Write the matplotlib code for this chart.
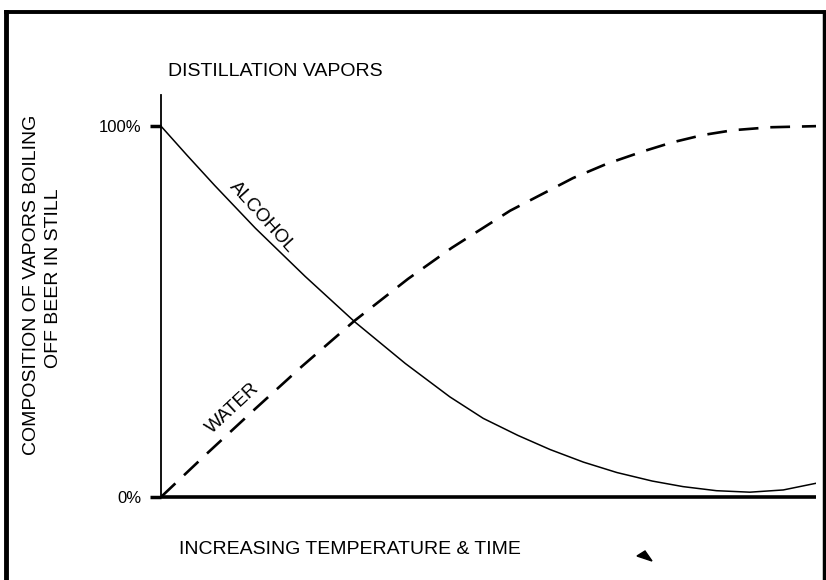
import matplotlib
matplotlib.use("Agg")
import matplotlib.pyplot as plt
from matplotlib.lines import Line2D
from matplotlib.patches import Polygon

plt.rcParams['font.family'] = ['Liberation Sans', 'DejaVu Sans']

# Data (x = % of temperature/time range, y = % composition)
alcohol_x = [0, 4.0, 8.2, 14.4, 22.0, 29.6, 37.3, 44.1, 49.2, 54.5, 59.4, 64.5, 69.6, 75.0, 79.7, 84.8, 89.9, 95.0, 100]
alcohol_y = [100, 92.1, 84.0, 72.5, 59.5, 47.2, 36.0, 27.0, 21.2, 16.6, 12.8, 9.4, 6.6, 4.3, 2.8, 1.7, 1.3, 1.9, 3.7]
water_x = [0, 6.7, 14.4, 21.5, 29.6, 37.7, 44.4, 53.3, 62.9, 68.0, 73.6, 78.0, 82.7, 87.3, 93.0, 100]
water_y = [0, 11.2, 23.8, 35.2, 47.6, 58.8, 67.2, 77.2, 86.0, 89.8, 93.2, 95.6, 97.6, 98.9, 99.7, 100]
ytick_values = [0, 100]
ytick_labels = ["0%", "100%"]

W, H = 826, 580
fig = plt.figure(figsize=(W / 100, H / 100), dpi=100)
ax = fig.add_axes([161 / W, 1 - 497 / H, 655 / W, 402 / H])

ax.plot(alcohol_x, alcohol_y, color='black', lw=1.1, solid_joinstyle='round')
ax.plot(water_x, water_y, color='black', lw=1.9, dashes=(7.5, 4.5))

ax.set_xlim(0, 100)
ax.set_ylim(0, 108.4)
ax.set_xticks([])
ax.set_yticks(ytick_values)
ax.set_yticklabels(ytick_labels, fontsize=12)
ax.tick_params(axis='y', length=8, width=2.5, pad=6)
for s in ['top', 'right']:
    ax.spines[s].set_visible(False)
ax.spines['left'].set_linewidth(1.3)
ax.spines['bottom'].set_linewidth(2.6)
ax.spines['bottom'].set_capstyle('butt')

# curve labels
ax.text(15.5, 75.5, "ALCOHOL", rotation=-48, ha='center', va='center', fontsize=13.5)
ax.text(10.9, 24.0, "WATER", rotation=43, ha='center', va='center', fontsize=13.5)

# titles / axis labels
fig.text(168 / W, 1 - 72 / H, "DISTILLATION VAPORS", ha='left', va='center', fontsize=14)
fig.text(179 / W, 1 - 550 / H, "INCREASING TEMPERATURE & TIME", ha='left', va='center', fontsize=14)
fig.text(32 / W, 1 - 285 / H, "COMPOSITION OF VAPORS BOILING", rotation=90, ha='center', va='center', fontsize=14)
fig.text(54 / W, 1 - 278 / H, "OFF BEER IN STILL", rotation=90, ha='center', va='center', fontsize=14)

# frame around the figure
fig.add_artist(Line2D([6 / W, 6 / W], [0, 1 - 12 / H], color='black', lw=3.5, transform=fig.transFigure))
fig.add_artist(Line2D([6 / W, 1], [1 - 12 / H, 1 - 12 / H], color='black', lw=2.8, transform=fig.transFigure))
fig.add_artist(Line2D([824 / W, 824 / W], [0, 1 - 12 / H], color='black', lw=2.5, transform=fig.transFigure))

# small speck near x label
fig.add_artist(Polygon([[637 / W, 1 - 556 / H], [645 / W, 1 - 551 / H], [652 / W, 1 - 561 / H]],
                       closed=True, color='black', transform=fig.transFigure))

fig.savefig("out.png", dpi=100)
